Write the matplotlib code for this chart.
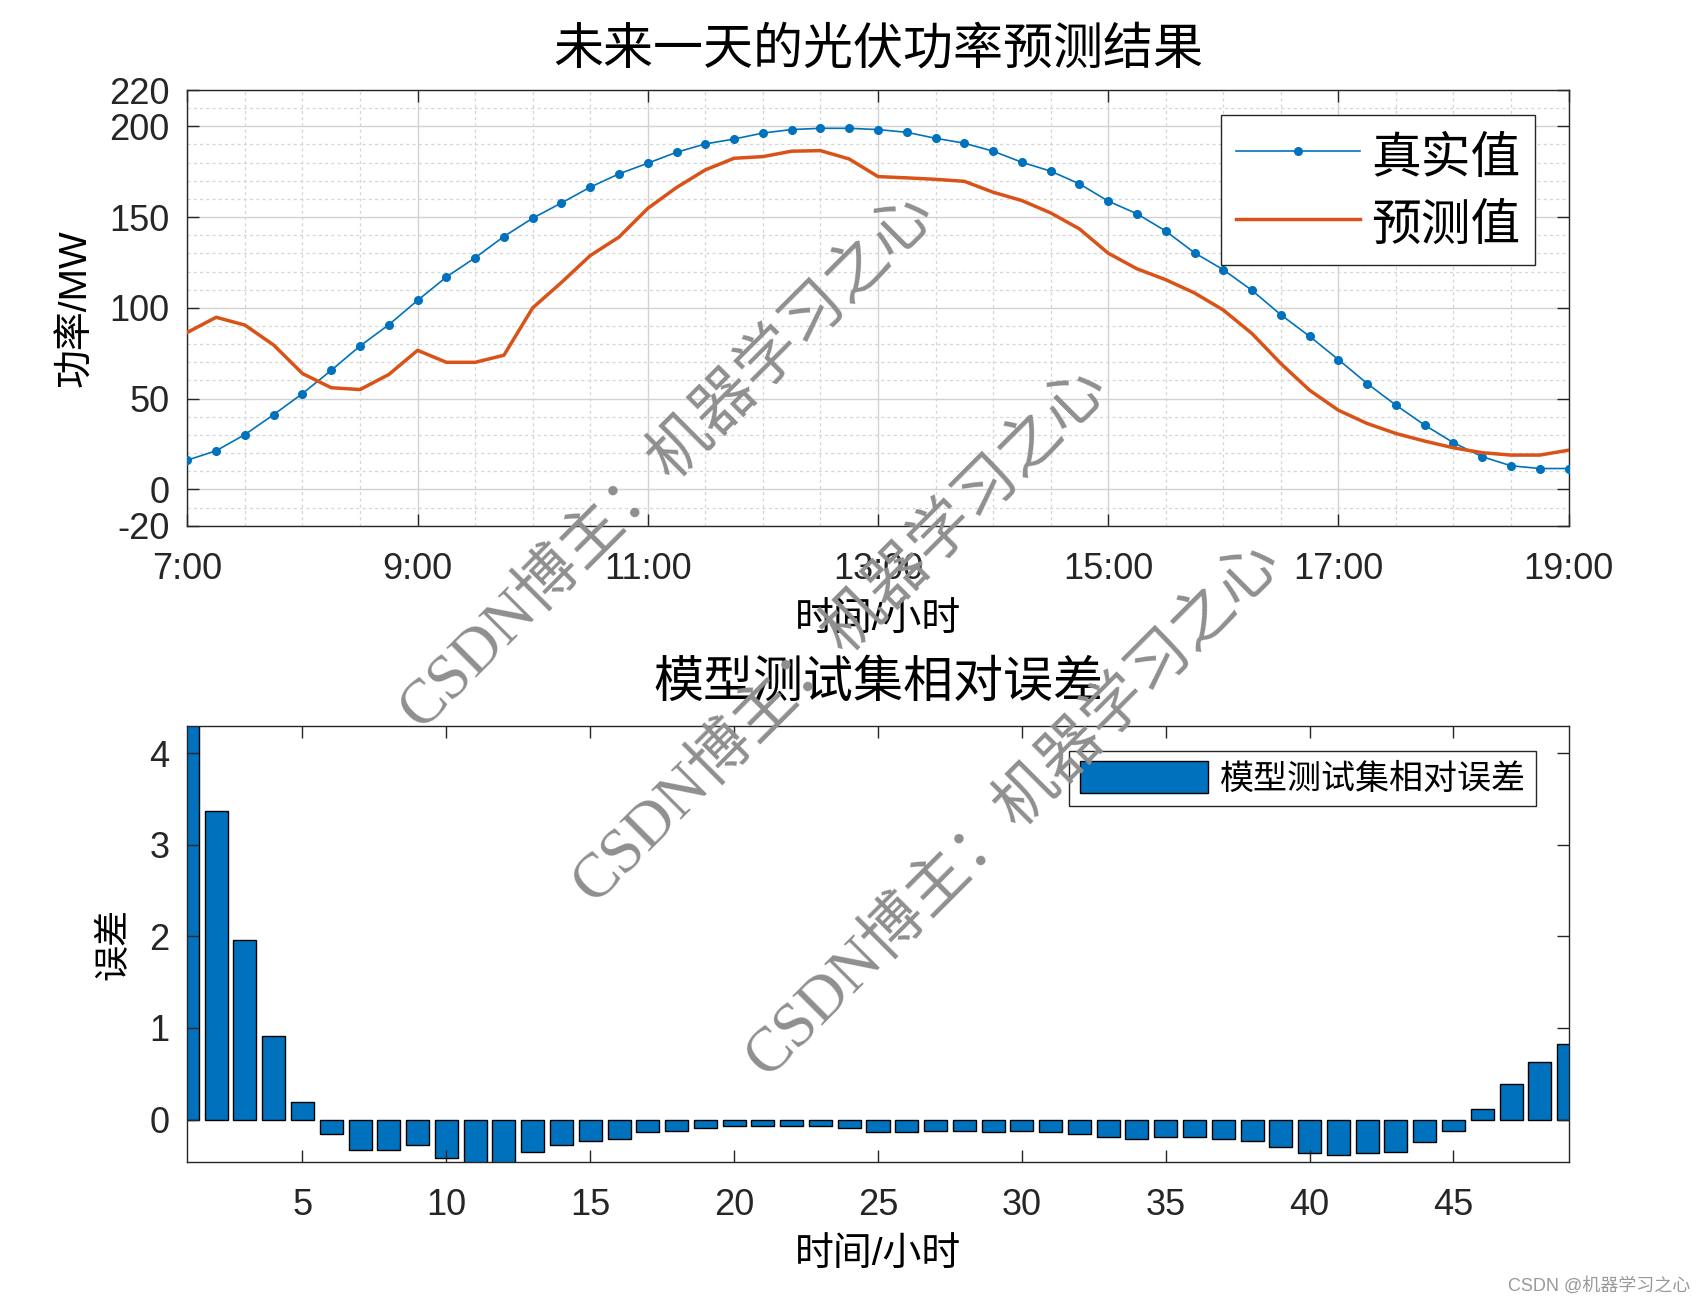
import numpy as np
import pandas as pd
import matplotlib
matplotlib.use('Agg')
import matplotlib.pyplot as plt
from matplotlib.ticker import MultipleLocator

plt.rcParams['font.family'] = ['Liberation Sans', 'Noto Sans CJK SC']
plt.rcParams['axes.unicode_minus'] = False

# ---- data ----
# one day, 7:00 - 19:00, every 15 min
times = pd.date_range('2023-06-01 07:00', '2023-06-01 19:00', freq='15min')
hour_labels = ['7:00', '9:00', '11:00', '13:00', '15:00', '17:00', '19:00']

true_power = [16.1, 21.3, 30.2, 41.2, 52.8, 65.6, 79.0, 90.7, 104.1, 117.0,
              127.6, 139.3, 149.4, 157.8, 166.5, 173.8, 179.7, 185.7, 190.3, 193.0,
              196.3, 198.2, 198.9, 198.9, 198.2, 196.7, 193.4, 190.7, 186.3, 180.2,
              175.3, 168.3, 158.8, 151.8, 142.3, 130.3, 121.0, 109.6, 96.2, 84.3,
              71.5, 58.3, 46.4, 35.4, 25.7, 18.0, 13.0, 11.5, 11.5]

pred_power = [86.5, 94.8, 90.5, 79.5, 63.8, 56.0, 55.0, 63.3, 76.6, 70.0,
              70.0, 73.9, 100.0, 114.0, 128.8, 139.0, 154.8, 166.3, 176.0, 182.4,
              183.3, 186.3, 186.6, 182.0, 172.3, 171.6, 170.8, 169.7, 163.7, 159.1,
              152.3, 143.5, 130.1, 121.5, 115.5, 108.2, 98.8, 85.8, 69.3, 54.6,
              43.6, 36.3, 30.8, 26.6, 22.9, 20.2, 18.9, 18.9, 21.6]

rel_error = [4.32, 3.37, 1.96, 0.91, 0.19, -0.16, -0.33, -0.33, -0.28, -0.42,
             -0.48, -0.47, -0.35, -0.28, -0.23, -0.21, -0.14, -0.12, -0.09, -0.07,
             -0.07, -0.07, -0.07, -0.09, -0.14, -0.14, -0.12, -0.12, -0.14, -0.12,
             -0.14, -0.16, -0.19, -0.21, -0.19, -0.19, -0.21, -0.23, -0.30, -0.37,
             -0.39, -0.37, -0.35, -0.25, -0.12, 0.12, 0.39, 0.63, 0.82]
err_idx = np.arange(1, len(rel_error) + 1)

blue = '#0072BD'
orange = '#D95319'
dark = '#262626'
W, H = 1708, 1303

fig = plt.figure(figsize=(W / 100, H / 100), dpi=100)
ax = fig.add_axes([187.4 / W, 1 - 525.7 / H, 1381.2 / W, 435.7 / H])
ax2 = fig.add_axes([187.4 / W, 1 - 1161.7 / H, 1381.2 / W, 436.0 / H])

# ---- top: power forecast ----
ax.plot(times, true_power, color=blue, lw=1.2, marker='.', ms=11, label='真实值', zorder=3)
ax.plot(times, pred_power, color=orange, lw=2.5, label='预测值', zorder=3)

ax.set_xlim(times[0], times[-1])
ax.set_xticks(times[::8])
ax.set_xticklabels(hour_labels)
ax.set_xticks(times[::2], minor=True)
ax.set_ylim(-20, 220)
ax.set_yticks([-20, 0, 50, 100, 150, 200, 220])
ax.yaxis.set_minor_locator(MultipleLocator(10))

ax.grid(which='major', color='#d2d2d2', lw=1.0, ls='-')
ax.grid(which='minor', color='#d6d6d6', lw=0.9, ls=(0, (2.5, 2.5)))
ax.set_axisbelow(True)

ax.set_title('未来一天的光伏功率预测结果', fontsize=36, y=1.092, va='center', pad=0, weight='light')
ax.set_xlabel('时间/小时', fontsize=28, va='center', weight='light')
ax.xaxis.set_label_coords(0.5, -0.2164)
ax.set_ylabel('功率/MW', fontsize=28, va='center')
ax.yaxis.set_label_coords(-0.0809, 0.5)

leg = ax.legend(loc='upper right', bbox_to_anchor=(0.9757, 0.9426), borderaxespad=0,
                fontsize=35.8, handlelength=2.5, handleheight=1.25, handletextpad=0.22,
                borderpad=0.3, labelspacing=0.29, fancybox=False, edgecolor=dark,
                framealpha=1)
leg.get_frame().set_linewidth(1.0)

# ---- bottom: relative error ----
ax2.bar(err_idx, rel_error, width=0.8, color=blue, edgecolor='black', linewidth=1.0,
        label='模型测试集相对误差')
ax2.set_xlim(1, 49)
ax2.set_ylim(-0.46, 4.30)
ax2.set_xticks(range(5, 50, 5))
ax2.set_yticks([0, 1, 2, 3, 4])

ax2.set_title('模型测试集相对误差', fontsize=36, y=1.097, va='center', pad=0, weight='light')
ax2.set_xlabel('时间/小时', fontsize=28, va='center', weight='light')
ax2.xaxis.set_label_coords(0.5, -0.214)
ax2.set_ylabel('误差', fontsize=26, va='center', weight='light')
ax2.yaxis.set_label_coords(-0.0532, 0.5)

leg2 = ax2.legend(loc='upper right', bbox_to_anchor=(0.9764, 0.942), borderaxespad=0,
                  fontsize=24.5, handlelength=3.78, handleheight=1.08, handletextpad=0.34,
                  borderpad=0.3, fancybox=False, edgecolor=dark, framealpha=1)
leg2.get_frame().set_linewidth(1.0)

for a in (ax, ax2):
    for s in a.spines.values():
        s.set_linewidth(1.0)
        s.set_color(dark)
    a.tick_params(which='major', direction='in', length=8.6, width=1.0, top=True, right=True,
                  labelsize=26, colors=dark)
    a.tick_params(which='minor', length=0)
    a.tick_params(axis='x', pad=19)
    a.tick_params(axis='y', pad=13)

# ---- watermark ----
for cx, cy in [(668, 462), (841, 636), (1014, 810)]:
    fig.text(cx / W, 1 - cy / H, 'CSDN博主：机器学习之心', rotation=45, rotation_mode='anchor',
             ha='center', va='center', fontsize=45, color='#8f8f8f',
             family=['Liberation Serif', 'Noto Sans CJK SC'], zorder=10)
fig.text(1690 / W, 1 - 1286 / H, 'CSDN @机器学习之心', ha='right', va='center',
         fontsize=13, color='#999999')

fig.savefig('out.png', dpi=100)
